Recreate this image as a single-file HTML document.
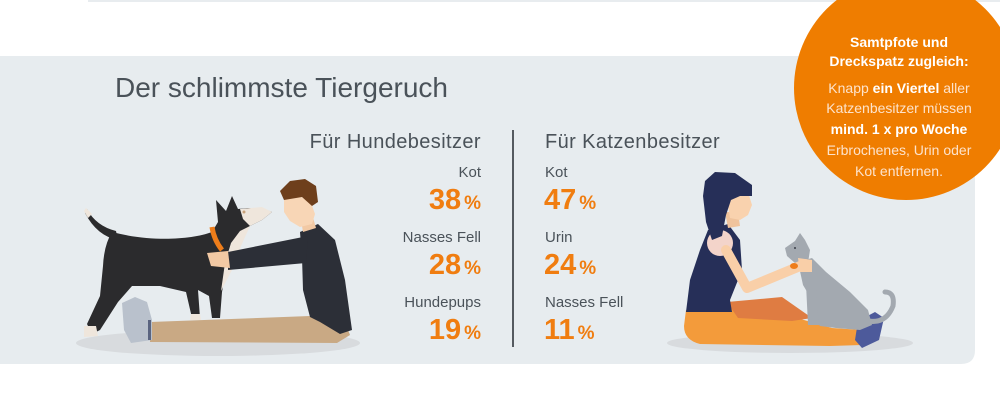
<!DOCTYPE html>
<html>
<head>
<meta charset="utf-8">
<style>
  html,body{margin:0;padding:0;background:#fff;}
  body{width:1000px;height:415px;overflow:hidden;}
  svg{display:block;}
  text{font-family:"Liberation Sans", Arial, sans-serif;}
</style>
</head>
<body>
<svg width="1000" height="415" viewBox="0 0 1000 415" xmlns="http://www.w3.org/2000/svg">
  <!-- top strip -->
  <rect x="88" y="0" width="912" height="2" fill="#e8ecef"/>
  <!-- panel -->
  <path d="M0,56 H975 V350 Q975,364 961,364 H0 Z" fill="#e7ecef"/>

  <!-- Title -->
  <text x="115" y="97" font-size="28" fill="#4a5259">Der schlimmste Tiergeruch</text>

  <!-- Column headings -->
  <text x="481" y="148" font-size="20" letter-spacing="0.4" text-anchor="end" fill="#4a5259">Für Hundebesitzer</text>
  <text x="545" y="148" font-size="20" letter-spacing="0.4" fill="#4a5259">Für Katzenbesitzer</text>

  <!-- divider -->
  <line x1="513" y1="130" x2="513" y2="347" stroke="#555a60" stroke-width="2"/>

  <!-- Left column -->
  <g fill="#4a5259" font-size="15" text-anchor="end">
    <text x="481" y="177">Kot</text>
    <text x="481" y="242">Nasses Fell</text>
    <text x="481" y="307">Hundepups</text>
  </g>
  <g fill="#f07d10" font-weight="bold" text-anchor="end">
    <text x="481" y="209"><tspan font-size="29">38</tspan><tspan font-size="19" dx="3">%</tspan></text>
    <text x="481" y="274"><tspan font-size="29">28</tspan><tspan font-size="19" dx="3">%</tspan></text>
    <text x="481" y="339"><tspan font-size="29">19</tspan><tspan font-size="19" dx="3">%</tspan></text>
  </g>

  <!-- Right column -->
  <g fill="#4a5259" font-size="15">
    <text x="545" y="177">Kot</text>
    <text x="545" y="242">Urin</text>
    <text x="545" y="307">Nasses Fell</text>
  </g>
  <g fill="#f07d10" font-weight="bold">
    <text x="544" y="209"><tspan font-size="29">47</tspan><tspan font-size="19" dx="3">%</tspan></text>
    <text x="544" y="274"><tspan font-size="29">24</tspan><tspan font-size="19" dx="3">%</tspan></text>
    <text x="544" y="339"><tspan font-size="29">11</tspan><tspan font-size="19" dx="3">%</tspan></text>
  </g>

  <!-- ===== Dog & man illustration ===== -->
  <ellipse cx="218" cy="343" rx="142" ry="13" fill="#d8dbde"/>
  <!-- dog tail -->
  <path d="M87,209 Q96,226 116,231 L118,240 Q97,236 85,213 Z" fill="#2b2b2d"/>
  <path d="M86,208 L92,214 L88,218 L84,211 Z" fill="#efe6dc"/>
  <!-- dog body -->
  <path d="M112,232 C150,242 190,240 212,232 L218,222 L216,200 L226,211 L232,196 L238,209 L248,208 L262,208 L272,212 L262,220 L250,226 L238,234 L228,252 L225,276 L222,292 L220,318 L212,318 L209,296 L198,290 L200,318 L192,318 L186,292 L160,286 L132,286 L118,302 L100,330 L92,334 L87,324 L100,296 L103,266 Q104,245 112,232 Z" fill="#2b2b2d"/>
  <!-- dog muzzle white -->
  <path d="M240,209 L262,207 L272,212 L262,220 L250,226 L243,219 Z" fill="#efe6dc"/>
  <!-- chest white -->
  <path d="M240,231 L250,226 L241,246 L232,270 L221,291 L225,263 L231,243 Z" fill="#efe6dc"/>
  <!-- paws -->
  <path d="M84,326 L96,326 L98,336 L84,337 Z" fill="#efe6dc"/>
  <path d="M191,314 L200,314 L201,320 L190,320 Z" fill="#efe6dc"/>
  <!-- eye -->
  <circle cx="244" cy="212" r="1.5" fill="#c9a27a"/>
  <!-- collar -->
  <path d="M212,227 Q214,240 222,250" stroke="#ee7d1a" stroke-width="5" fill="none"/>

  <!-- man pants -->
  <path d="M150,322 L310,316 L345,322 L350,335 L337,343 L150,342 Z" fill="#c9a984"/>
  <!-- shoe -->
  <path d="M122,303 L135,297 L147,302 L152,320 L152,340 L131,343 L124,330 Z" fill="#b9c1cc"/>
  <rect x="148" y="320" width="3" height="20" fill="#5a6480"/>
  <!-- torso -->
  <path d="M300,232 L318,224 L335,240 L345,280 L352,330 L340,334 L320,322 L310,317 L303,290 L302,257 Z" fill="#2c2f37"/>
  <!-- arm -->
  <path d="M308,236 L228,252 L228,270 L306,263 Z" fill="#2c2f37"/>
  <!-- hand -->
  <path d="M207,253 L228,251 L230,268 L211,266 Z" fill="#f2c9a4"/>
  <!-- neck & face -->
  <path d="M300,214 L312,214 L316,228 L303,232 Z" fill="#f2c9a4"/>
  <path d="M284,200 L298,196 L310,200 L315,214 L312,224 L300,227 L290,221 L284,212 Z" fill="#f8d6b6"/>
  <!-- hair -->
  <path d="M280,191 L290,181 L305,179 L316,186 L318,202 L312,206 L302,197 L284,200 Z" fill="#6e3f1c"/>

  <!-- ===== Woman & cat illustration ===== -->
  <ellipse cx="790" cy="343" rx="123" ry="10" fill="#d8dbde"/>
  <!-- pants -->
  <path d="M686,310 L730,307 L790,316 L832,328 L862,330 L862,345 L830,346 L700,344 Q684,340 684,326 Z" fill="#f39b3b"/>
  <path d="M727,302 L782,297 L812,318 L792,321 L738,318 Z" fill="#df7c42"/>
  <!-- feet -->
  <path d="M858,321 L875,312 L884,318 L879,340 L862,348 L855,340 Z" fill="#4d5a9b"/>
  <!-- cat tail -->
  <path d="M868,321 Q886,324 893,306 Q895,292 885,292" stroke="#a3a9b0" stroke-width="5" fill="none" stroke-linecap="round"/>
  <!-- cat body -->
  <path d="M798,262 L812,258 L826,272 L850,292 L868,310 L872,325 L860,330 L836,328 L820,326 L814,318 L812,300 L803,285 Z" fill="#a3a9b0"/>
  <path d="M806,284 L816,290 L819,325 L808,325 Z" fill="#a3a9b0"/>
  <!-- cat head -->
  <path d="M785,248 L795,241 L800,233 L805,240 L810,250 L808,263 L795,263 L787,256 Z" fill="#a3a9b0"/>
  <circle cx="795" cy="248" r="1" fill="#3a3f48"/>
  <!-- torso -->
  <path d="M708,230 L728,224 L740,240 L742,270 L730,300 L732,312 L686,312 L690,280 L700,250 Z" fill="#262f58"/>
  <!-- shoulder -->
  <circle cx="720" cy="243" r="13" fill="#f3d4ca"/>
  <!-- arm -->
  <path d="M726,250 L747,288 L805,264" stroke="#f9cfa8" stroke-width="10" fill="none" stroke-linejoin="round" stroke-linecap="round"/>
  <path d="M798,258 L812,260 L812,272 L800,272 Z" fill="#f9cfa8"/>
  <!-- collar -->
  <ellipse cx="794" cy="266" rx="4" ry="3" fill="#ee7d1a"/>
  <!-- neck & face -->
  <path d="M725,212 L738,212 L740,226 L728,228 Z" fill="#efc39c"/>
  <path d="M731,190 L748,192 L752,205 L748,215 L740,220 L730,218 L727,200 Z" fill="#f9d2ae"/>
  <!-- hair -->
  <path d="M705,181 L715,172 L735,173 L752,185 L752,196 L740,196 L731,200 L726,215 L722,236 L712,240 L706,222 L703,196 Z" fill="#262f58"/>

  <!-- ===== Orange circle ===== -->
  <circle cx="906" cy="88" r="112" fill="#ef7d00"/>
  <g fill="#ffffff" font-size="14" text-anchor="middle">
    <text x="899" y="47" font-weight="bold">Samtpfote und</text>
    <text x="899" y="66" font-weight="bold">Dreckspatz zugleich:</text>
    <text x="899" y="93" fill="#fde3cc">Knapp <tspan font-weight="bold" fill="#ffffff">ein Viertel</tspan> aller</text>
    <text x="899" y="113" fill="#fde3cc">Katzenbesitzer müssen</text>
    <text x="899" y="134" font-weight="bold">mind. 1 x pro Woche</text>
    <text x="899" y="155" fill="#fde3cc">Erbrochenes, Urin oder</text>
    <text x="899" y="176" fill="#fde3cc">Kot entfernen.</text>
  </g>
</svg>
</body>
</html>
